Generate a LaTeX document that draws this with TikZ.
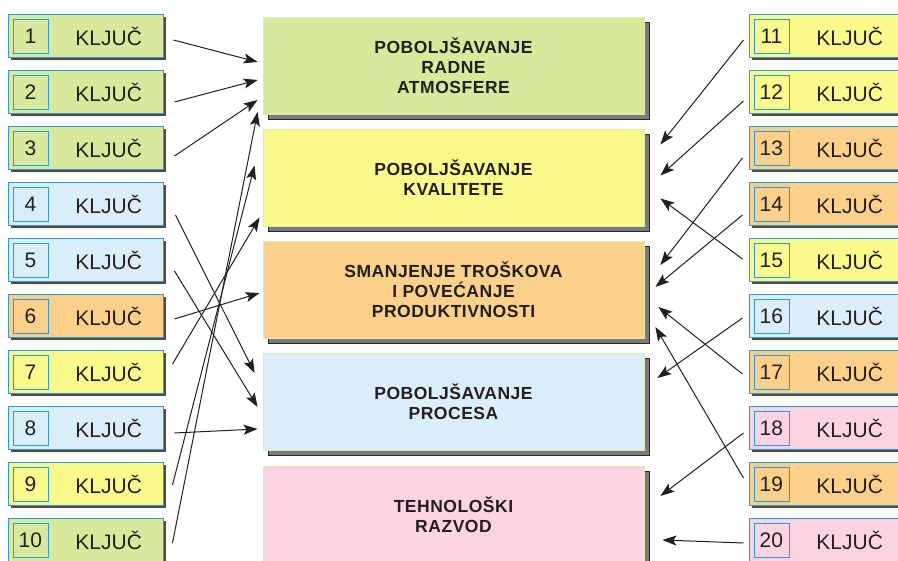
\documentclass[tikz,border=0pt]{standalone}
\usepackage{fontspec}
\setmainfont{Liberation Sans}
\newfontfamily\goalfont{Liberation Sans}[LetterSpace=3]
\usepackage{tikz}
\usetikzlibrary{arrows.meta,shadows}
\definecolor{cgreen}{HTML}{D7EA9B}
\definecolor{cyellow}{HTML}{FAFA8C}
\definecolor{corange}{HTML}{FAD08A}
\definecolor{cblue}{HTML}{DAEEFA}
\definecolor{cpink}{HTML}{FCD4E1}
\definecolor{keyblue}{HTML}{2E98D8}
\definecolor{goalline}{HTML}{DDEBB0}
\definecolor{textdark}{HTML}{231F20}
\tikzset{
    %Define standard arrow tip
    >={Stealth[length=14pt,width=10pt,inset=3pt]},
    %Define style for key boxes
    keybox/.style={
           rectangle,
           draw=keyblue, line width=1pt,
           minimum height=43pt,
           text width=113pt,
           inner xsep=21pt,
           align=right,
           font=\fontsize{21}{25}\selectfont,
           text=textdark,
           general shadow={fill=black!70, shadow xshift=3pt, shadow yshift=-3pt}
           },
    %Define style for number squares
    numbox/.style={
           rectangle,
           draw=keyblue, line width=0.8pt,
           anchor=west, xshift=5pt,
           minimum width=35pt,
           minimum height=34pt,
           inner sep=0pt,
           font=\fontsize{21}{25}\selectfont,
           text=textdark
           },
    %Define style for goal boxes
    goalbox/.style={
           rectangle,
           draw=goalline, line width=0.8pt,
           minimum width=381pt,
           minimum height=97pt,
           align=center,
           font=\fontsize{17.5}{20}\selectfont\goalfont\bfseries,
           text=textdark,
           general shadow={fill=black!52, draw=black!85, line width=0.8pt,
                           shadow xshift=5pt, shadow yshift=-5pt}
           },
    % Define arrow style
    pil/.style={
           ->,
           line width=1pt,
           draw=textdark}
}
\begin{document}
\begin{tikzpicture}[x=1pt,y=-1pt]
\clip (0,0) rectangle (898,561);
 %goals
\node[goalbox, fill=cgreen](g1) at (453.5,65.5){POBOLJŠAVANJE\\RADNE\\ATMOSFERE};
\node[goalbox, fill=cyellow](g2) at (453.5,178){POBOLJŠAVANJE\\KVALITETE};
\node[goalbox, fill=corange](g3) at (453.5,290){SMANJENJE TROŠKOVA\\I POVEĆANJE\\PRODUKTIVNOSTI};
\node[goalbox, fill=cblue](g4) at (453.5,402){POBOLJŠAVANJE\\PROCESA};
\node[goalbox, fill=cpink](g5) at (453.5,514.5){TEHNOLOŠKI\\RAZVOD};
 %left keys
\node[keybox, fill=cgreen, label={[numbox, name=n1]west:1}](k1) at (85.5,36){KLJUČ};
\node[keybox, fill=cgreen, label={[numbox, name=n2]west:2}](k2) at (85.5,92){KLJUČ};
\node[keybox, fill=cgreen, label={[numbox, name=n3]west:3}](k3) at (85.5,148){KLJUČ};
\node[keybox, fill=cblue, label={[numbox, name=n4]west:4}](k4) at (85.5,204){KLJUČ};
\node[keybox, fill=cblue, label={[numbox, name=n5]west:5}](k5) at (85.5,260){KLJUČ};
\node[keybox, fill=corange, label={[numbox, name=n6]west:6}](k6) at (85.5,316){KLJUČ};
\node[keybox, fill=cyellow, label={[numbox, name=n7]west:7}](k7) at (85.5,372){KLJUČ};
\node[keybox, fill=cblue, label={[numbox, name=n8]west:8}](k8) at (85.5,428){KLJUČ};
\node[keybox, fill=cyellow, label={[numbox, name=n9]west:9}](k9) at (85.5,484){KLJUČ};
\node[keybox, fill=cgreen, label={[numbox, name=n10]west:10}](k10) at (85.5,540){KLJUČ};
 %right keys
\node[keybox, fill=cyellow, label={[numbox, name=n11]west:11}](k11) at (826.5,36){KLJUČ};
\node[keybox, fill=cyellow, label={[numbox, name=n12]west:12}](k12) at (826.5,92){KLJUČ};
\node[keybox, fill=corange, label={[numbox, name=n13]west:13}](k13) at (826.5,148){KLJUČ};
\node[keybox, fill=corange, label={[numbox, name=n14]west:14}](k14) at (826.5,204){KLJUČ};
\node[keybox, fill=cyellow, label={[numbox, name=n15]west:15}](k15) at (826.5,260){KLJUČ};
\node[keybox, fill=cblue, label={[numbox, name=n16]west:16}](k16) at (826.5,316){KLJUČ};
\node[keybox, fill=corange, label={[numbox, name=n17]west:17}](k17) at (826.5,372){KLJUČ};
\node[keybox, fill=cpink, label={[numbox, name=n18]west:18}](k18) at (826.5,428){KLJUČ};
\node[keybox, fill=corange, label={[numbox, name=n19]west:19}](k19) at (826.5,484){KLJUČ};
\node[keybox, fill=cpink, label={[numbox, name=n20]west:20}](k20) at (826.5,540){KLJUČ};
 %arrows from the left
\draw[pil] ([xshift=10pt,yshift=-4pt]k1.east) -- ([xshift=-5pt,yshift=3.5pt]g1.west);
\draw[pil] ([xshift=11pt,yshift=-10pt]k2.east) -- ([xshift=-5pt,yshift=-14.5pt]g1.west);
\draw[pil] ([xshift=11pt,yshift=-8pt]k3.east) -- ([xshift=-5pt,yshift=-34.5pt]g1.west);
\draw[pil] ([xshift=12pt,yshift=-11pt]k4.east) -- ([xshift=-8pt,yshift=29pt]g4.west);
\draw[pil] ([xshift=11pt,yshift=-11pt]k5.east) -- ([xshift=-5pt,yshift=-5pt]g4.west);
\draw[pil] ([xshift=11pt,yshift=-3pt]k6.east) -- ([xshift=-3pt,yshift=-3pt]g3.west);
\draw[pil] ([xshift=9pt,yshift=8pt]k7.east) -- ([xshift=-3pt,yshift=-39.5pt]g2.west);
\draw[pil] ([xshift=11pt,yshift=-5pt]k8.east) -- ([xshift=-5pt,yshift=-27pt]g4.west);
\draw[pil] ([xshift=9pt,yshift=-1pt]k9.east) -- ([xshift=-8pt,yshift=12.5pt]g2.west);
\draw[pil] ([xshift=9pt,yshift=-3pt]k10.east) -- ([xshift=-5pt,yshift=-46.5pt]g1.west);
 %arrows from the right
\draw[pil] ([xshift=-5pt,yshift=-4pt]k11.west) -- ([xshift=16pt,yshift=33.5pt]g2.east);
\draw[pil] ([xshift=-5pt,yshift=-9pt]k12.west) -- ([xshift=16pt,yshift=2.5pt]g2.east);
\draw[pil] ([xshift=-6pt,yshift=-10pt]k13.west) -- ([xshift=16pt,yshift=25pt]g3.east);
\draw[pil] ([xshift=-6pt,yshift=-11pt]k14.west) -- ([xshift=11pt,yshift=3pt]g3.east);
\draw[pil] ([xshift=-6pt,yshift=1pt]k15.west) -- ([xshift=16pt,yshift=-20.5pt]g2.east);
\draw[pil] ([xshift=-6pt,yshift=-2pt]k16.west) -- ([xshift=13pt,yshift=24pt]g4.east);
\draw[pil] ([xshift=-6pt,yshift=-2pt]k17.west) -- ([xshift=14pt,yshift=-17pt]g3.east);
\draw[pil] ([xshift=-5pt,yshift=-5pt]k18.west) -- ([xshift=16pt,yshift=18.5pt]g5.east);
\draw[pil] ([xshift=-5pt,yshift=6pt]k19.west) -- ([xshift=11pt,yshift=-37pt]g3.east);
\draw[pil] ([xshift=-5pt,yshift=-3pt]k20.west) -- ([xshift=18pt,yshift=-25.5pt]g5.east);
\end{tikzpicture}
\end{document}
